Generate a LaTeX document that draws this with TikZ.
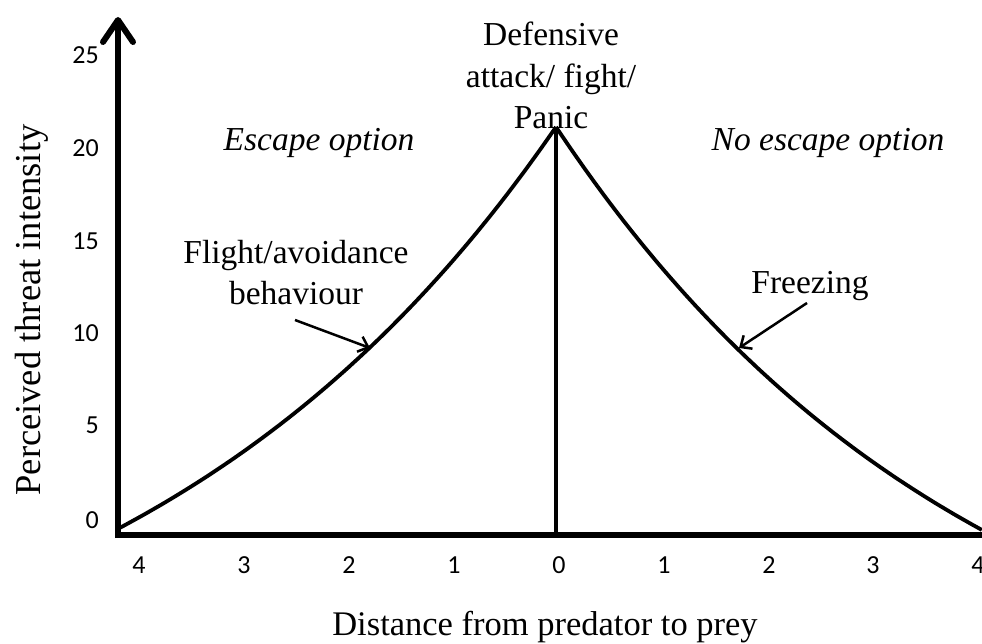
\documentclass[tikz,border=0pt]{standalone}
\usepackage{fontspec}
\setmainfont{Liberation Serif}
\newfontfamily\calib{Carlito}
\usetikzlibrary{arrows.meta}
\begin{document}
\begin{tikzpicture}[x=1pt,y=-1pt,
  axis/.style={line width=6pt},
  curve/.style={line width=3.8pt, line join=round},
  note/.style={line width=2.5pt, -{Straight Barb[length=9pt,width=16pt]}},
  lbl/.style={font=\fontsize{33.5}{41.5}\selectfont, inner sep=0pt},
  itlbl/.style={font=\fontsize{33.5}{41.5}\selectfont\itshape, inner sep=0pt},
  axlbl/.style={font=\fontsize{34.5}{41.5}\selectfont, inner sep=0pt},
  ticklbl/.style={font=\calib\fontsize{26}{30}\selectfont, inner sep=0pt}]
\useasboundingbox (0,0) rectangle (982,644);
% axes
\coordinate (O) at (118,535);
\coordinate (Ob) at (118,538);
\coordinate (ytop) at (118,20);
\coordinate (ytopl) at (103,42);
\coordinate (ytopr) at (133,42);
\coordinate (xend) at (982,535);
\draw[axis] (O) -- (xend);
\draw[axis] (Ob) -- (118,22);
\draw[axis, line cap=round, line join=round] (ytopl) -- (ytop) -- (ytopr);
% curves
\coordinate (peak) at (556,127);
\coordinate (base0) at (556,535);
\draw[curve] plot[domain=0:4.06, samples=90] ({556-108.4*\x},{535-(632*exp(-0.25*\x)-224)});
\draw[curve] plot[domain=0:4.06, samples=90] ({556+104.9*\x},{535-(632*exp(-0.25*\x)-224)});
\draw[line width=4.3pt] (peak) -- (base0);
% tick labels
\foreach \v/\y in {0/520,5/425,10/333,15/241,20/148,25/55}
  \node[ticklbl, anchor=east] (y\v) at (99,\y) {\v};
\foreach \t/\x [count=\i] in {4/139,3/244,2/349,1/454,0/559,1/664,2/769,3/873,4/978}
  \node[ticklbl] (x\i) at (\x,565) {\t};
% labels
\node[lbl, align=center, anchor=north] (def) at (551,22) {Defensive\\attack/ fight/\\Panic};
\node[itlbl, anchor=base] (esc) at (319,151) {Escape option};
\node[itlbl, anchor=base] (noesc) at (828,151) {No escape option};
\node[lbl, align=center, anchor=north] (flight) at (296,240) {Flight/avoidance\\behaviour};
\node[lbl, anchor=base] (freeze) at (810,293) {Freezing};
\node[axlbl, font=\fontsize{36.5}{41.5}\selectfont, rotate=90] (ylab) at (32,310) {Perceived threat intensity};
\node[axlbl, anchor=base] (xlab) at (545,635) {Distance from predator to prey};
% annotation arrows
\coordinate (ftail) at (295,320);
\coordinate (fhead) at (370,348);
\coordinate (ztail) at (807,303);
\coordinate (zhead) at (739,348);
\draw[note] (ftail) -- (fhead);
\draw[note] (ztail) -- (zhead);
\end{tikzpicture}
\end{document}
